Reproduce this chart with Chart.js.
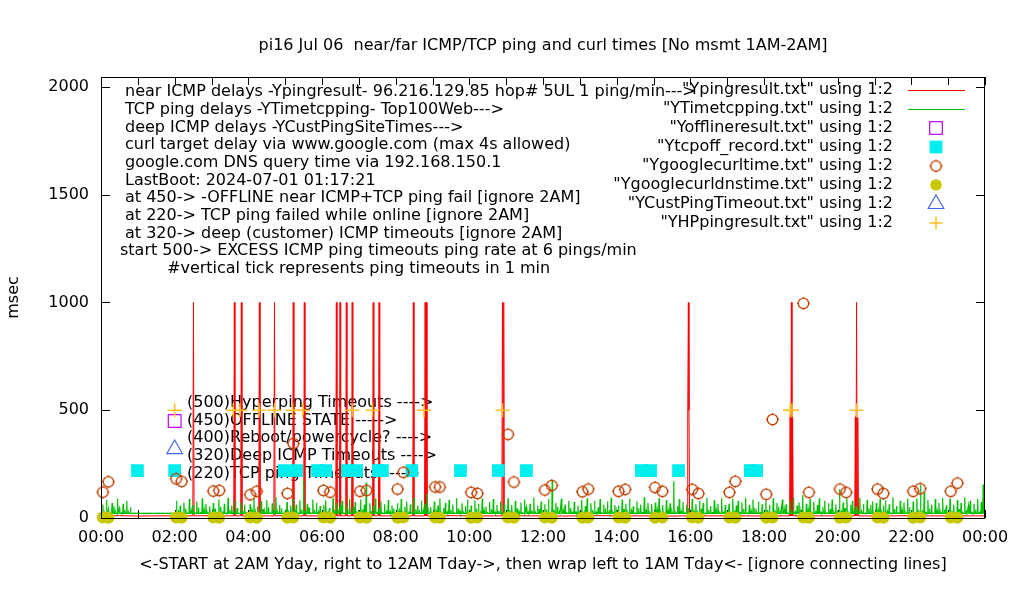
<!DOCTYPE html>
<html>
<head>
<meta charset="utf-8">
<title>pi16 ping times</title>
<script src="https://cdn.jsdelivr.net/npm/chart.js@4.4.1/dist/chart.umd.min.js"></script>
<style>
  html, body { margin: 0; padding: 0; background: #fff; }
  #wrap { width: 1020px; height: 600px; }
</style>
</head>
<body>
<div id="wrap"><canvas id="pingChart" width="1020" height="600"></canvas></div>
<script>
// ---- data (hours since 00:00, values in msec) ----
const xTickLabels = ['00:00', '02:00', '04:00', '06:00', '08:00', '10:00', '12:00',
                     '14:00', '16:00', '18:00', '20:00', '22:00', '00:00'];
const yTickValues = [0, 500, 1000, 1500, 2000];

// near ICMP ping baseline, one value every 30 min
const pingBase = [10, 11, 9, 10, 10, 10, 11, 10, 9, 10, 12, 10,
                  10, 9, 11, 10, 10, 10, 9, 11, 10, 10, 12, 10,
                  10, 9, 10, 11, 10, 10, 10, 9, 11, 10, 10, 10,
                  9, 10, 11, 10, 10, 10, 9, 10, 11, 10, 10, 10, 10];
const pingFloor = 10;
// ping timeout spikes: start hour and per-minute values
const pingSpikeHours = [2.51, 3.62, 3.81, 4.30, 4.71, 5.22, 5.52, 6.39, 6.49, 6.66, 6.82,
                        7.39, 7.55, 8.48, 8.80, 10.90, 15.93, 18.71, 20.48];
const pingSpikeVals = [[1000], [1000], [1000], [1000], [1000], [1000], [1000], [1000], [1000],
                       [1000], [1000], [1000], [1000], [1000], [1000, 10, 1000], [1000, 10, 1000],
                       [500, 1000, 500], [480, 10, 1000, 10, 470], [470, 10, 1000, 10, 465]];

// TCP ping delays, one value every 3 min, one row per hour
const tcpStepMin = 3;
const tcpFloor = 21;
const tcpMs = [
  30,62,25,84,40,22,70,55,28,90,45,24,66,38,80,26,50,22,22,22,
  22,22,22,22,22,22,22,22,22,22,22,22,22,22,22,22,22,22,22,22,
  22,80,30,58,24,72,44,26,88,35,60,23,76,48,28,92,40,65,25,54,
  28,70,44,24,86,52,30,66,23,94,38,58,26,80,46,22,72,34,62,27,
  24,64,36,90,28,55,23,78,42,30,84,50,25,68,33,96,27,60,45,22,
  30,74,26,58,88,35,62,24,82,40,175,28,66,50,23,86,38,70,29,56,
  25,60,82,30,46,24,92,38,68,27,54,80,23,64,42,88,26,50,74,31,
  28,86,40,62,165,24,70,33,56,90,26,48,78,23,64,36,84,29,58,44,
  23,68,34,88,26,52,76,30,62,24,94,40,58,27,80,36,66,110,30,50,
  26,76,32,58,90,24,46,70,28,84,38,62,23,92,44,30,68,25,54,86,
  30,58,24,82,44,66,27,90,36,52,23,74,40,88,28,60,34,78,25,64,
  24,92,38,60,26,80,44,30,72,23,86,50,28,66,36,94,25,58,42,76,
  28,64,40,88,24,175,32,70,52,26,90,36,62,23,80,46,30,74,27,58,
  25,84,30,56,92,24,68,38,80,27,50,88,23,62,44,76,30,94,26,60,
  30,58,24,86,42,66,26,90,34,54,23,78,46,62,28,96,36,70,25,64,
  26,72,40,92,28,60,24,84,36,68,30,170,25,56,88,33,74,23,62,46,
  24,88,32,64,26,80,44,70,23,94,38,56,28,84,40,66,25,90,30,60,
  28,66,24,90,36,58,80,26,72,42,94,23,60,34,86,46,28,76,25,64,
  25,80,38,62,24,92,30,70,52,26,86,40,64,23,78,34,94,28,58,72,
  30,105,26,66,40,88,24,74,34,60,92,27,50,80,23,68,42,86,26,62,
  26,135,30,72,46,90,24,62,80,33,56,28,94,38,66,23,84,44,60,76,
  24,70,36,88,27,58,82,30,64,23,96,42,56,26,80,38,72,25,90,50,
  28,76,24,92,38,155,30,120,26,84,44,62,23,88,36,70,27,94,40,58,
  25,90,34,62,28,84,42,70,24,96,36,58,80,26,66,40,88,30,74,155
];

// OFFLINE state marks (450)
const offlineHours = [2.0];
const offlineMs = [450];

// TCP ping failed while online (220)
const tcpOffHours = [0.99, 2.0, 4.98, 5.31, 5.88, 6.10, 6.69, 6.94, 7.53, 7.64, 8.44,
                     9.76, 10.79, 11.55, 14.67, 14.92, 15.68, 17.63, 17.80];
const tcpOffMs = [220, 220, 220, 220, 220, 220, 220, 220, 220, 220, 220,
                  220, 220, 220, 220, 220, 220, 220, 220];

// curl www.google.com times and DNS query times (same sample times)
const curlHours = [0.05, 0.20, 2.04, 2.19, 3.05, 3.21, 4.05, 4.23, 5.06, 5.22, 6.04, 6.22,
                   7.03, 7.21, 8.05, 8.21, 9.07, 9.20, 10.05, 10.22, 11.05, 11.21, 12.05, 12.24,
                   13.07, 13.23, 14.05, 14.23, 15.04, 15.24, 16.05, 16.22, 17.06, 17.22, 18.06, 18.23,
                   19.07, 19.22, 20.06, 20.23, 21.08, 21.24, 22.05, 22.24, 23.07, 23.25];
const curlMs = [120, 168, 182, 170, 125, 128, 108, 124, 114, 346, 128, 120,
                124, 128, 134, 212, 144, 144, 119, 114, 388, 167, 130, 151,
                122, 134, 124, 133, 142, 124, 133, 114, 119, 170, 110, 457,
                996, 119, 134, 119, 134, 114, 124, 136, 124, 162];
const dnsMs = [2, 1, 2, 1, 2, 1, 2, 1, 1, 2, 2, 1,
               2, 1, 1, 2, 2, 1, 1, 2, 2, 1, 2, 1,
               1, 2, 2, 1, 1, 2, 2, 1, 2, 1, 1, 2,
               2, 1, 1, 2, 2, 1, 1, 2, 2, 1];

// deep (customer) ICMP timeouts (320)
const custHours = [2.0];
const custMs = [320];

// Hyperping timeouts (500)
const hpHours = [2.0, 3.59, 3.77, 4.29, 4.71, 5.20, 5.48, 6.82, 7.37, 8.77, 10.90, 18.71, 18.76, 20.51];
const hpMs = [500, 500, 500, 500, 500, 500, 500, 500, 500, 500, 500, 500, 500, 500];

const noteLines = [
  'near ICMP delays -Ypingresult- 96.216.129.85 hop# 5UL 1 ping/min--->',
  'TCP ping delays -YTimetcpping- Top100Web--->',
  'deep ICMP delays -YCustPingSiteTimes--->',
  'curl target delay via www.google.com (max 4s allowed)',
  'google.com DNS query time via 192.168.150.1',
  'LastBoot: 2024-07-01 01:17:21',
  'at 450-> -OFFLINE near ICMP+TCP ping fail [ignore 2AM]',
  'at 220-> TCP ping failed while online [ignore 2AM]',
  'at 320-> deep (customer) ICMP timeouts [ignore 2AM]',
  'start 500-> EXCESS ICMP ping timeouts ping rate at 6 pings/min',
  '#vertical tick represents ping timeouts in 1 min'
];
const levelLabels = [
  '(500)Hyperping Timeouts ---->',
  '(450)OFFLINE STATE ----->',
  '(400)Reboot/powercycle? ---->',
  '(320)Deep ICMP Timeouts ---->',
  '(220)TCP ping Timeouts ---->'
];

// ---- build point lists ----
function pairs(xs, ys) {
  return xs.map((x, i) => ({ x: x, y: ys[i] }));
}

const inSpike = h => pingSpikeHours.some((s, i) =>
  h >= s - 2 / 60 && h <= s + (pingSpikeVals[i].length + 1) / 60);
const pingData = [];
pingBase.forEach((v, i) => {
  const h = i * 0.5;
  if (!inSpike(h)) pingData.push({ x: h, y: v });
});
pingSpikeHours.forEach((h, i) => {
  const vals = pingSpikeVals[i];
  pingData.push({ x: h - 1 / 60, y: pingFloor });
  vals.forEach((v, k) => pingData.push({ x: h + k / 60, y: v }));
  pingData.push({ x: h + vals.length / 60, y: pingFloor });
});
pingData.sort((a, b) => a.x - b.x);

// each TCP sample drawn as a short blip off the resting level
const tcpData = [];
tcpMs.forEach((v, i) => {
  const h = i * tcpStepMin / 60;
  tcpData.push({ x: h - 0.7 / 60, y: tcpFloor });
  tcpData.push({ x: h, y: v });
  tcpData.push({ x: h + 0.7 / 60, y: tcpFloor });
});

// gnuplot style circle with little tick marks
function makeTickCircle(color) {
  const c = document.createElement('canvas');
  c.width = 17;
  c.height = 17;
  const g = c.getContext('2d');
  g.strokeStyle = color;
  g.lineWidth = 1.3;
  g.beginPath();
  g.arc(8.5, 8.5, 5.2, 0, Math.PI * 2);
  g.stroke();
  g.beginPath();
  g.moveTo(8.5, 2.0); g.lineTo(8.5, 3.4);
  g.moveTo(8.5, 13.6); g.lineTo(8.5, 15.0);
  g.moveTo(2.0, 8.5); g.lineTo(3.4, 8.5);
  g.moveTo(13.6, 8.5); g.lineTo(15.0, 8.5);
  g.stroke();
  return c;
}
const curlMarker = makeTickCircle('#c04000');

const FONT = '16px "DejaVu Sans"';

function drawMarker(ctx, ds, x, y) {
  ctx.save();
  const kind = ds.markerKind;
  ctx.lineWidth = 1.2;
  if (kind === 'line') {
    ctx.strokeStyle = ds.borderColor;
    ctx.lineWidth = 1;
    ctx.beginPath();
    ctx.moveTo(908, y + 0.5);
    ctx.lineTo(965, y + 0.5);
    ctx.stroke();
  } else if (kind === 'openSquare') {
    ctx.strokeStyle = ds.borderColor;
    ctx.strokeRect(x - 6.3, y - 6.3, 12.6, 12.6);
  } else if (kind === 'fillSquare') {
    ctx.fillStyle = ds.backgroundColor;
    ctx.fillRect(x - 6.4, y - 6.4, 12.8, 12.8);
  } else if (kind === 'tickCircle') {
    ctx.drawImage(curlMarker, x - 8.5, y - 8.5);
  } else if (kind === 'fillCircle') {
    ctx.fillStyle = ds.backgroundColor;
    ctx.beginPath();
    ctx.arc(x, y, 5.8, 0, Math.PI * 2);
    ctx.fill();
  } else if (kind === 'openTriangle') {
    ctx.strokeStyle = ds.borderColor;
    ctx.beginPath();
    ctx.moveTo(x, y - 9);
    ctx.lineTo(x + 7.8, y + 4.5);
    ctx.lineTo(x - 7.8, y + 4.5);
    ctx.closePath();
    ctx.stroke();
  } else if (kind === 'plus') {
    ctx.strokeStyle = ds.borderColor;
    ctx.lineWidth = 1.5;
    ctx.beginPath();
    ctx.moveTo(x - 6.5, y); ctx.lineTo(x + 6.5, y);
    ctx.moveTo(x, y - 6.5); ctx.lineTo(x, y + 6.5);
    ctx.stroke();
  }
  ctx.restore();
}

const gnuplotDecor = {
  id: 'gnuplotDecor',
  beforeDatasetsDraw(chart) {
    const ctx = chart.ctx;
    const area = chart.chartArea;
    const xs = chart.scales.x;
    const ys = chart.scales.y;
    ctx.save();
    // inward ticks (behind the data, like gnuplot)
    ctx.strokeStyle = '#000';
    ctx.lineWidth = 1;
    ctx.beginPath();
    yTickValues.forEach(v => {
      const py = Math.round(ys.getPixelForValue(v)) + 0.5;
      ctx.moveTo(area.left, py); ctx.lineTo(area.left + 9, py);
      ctx.moveTo(area.right, py); ctx.lineTo(area.right - 9, py);
    });
    for (let h = 0; h <= 24; h++) {
      const px = Math.round(xs.getPixelForValue(h)) + 0.5;
      ctx.moveTo(px, area.top); ctx.lineTo(px, area.top + 8);
      ctx.moveTo(px, area.bottom); ctx.lineTo(px, area.bottom - 8);
    }
    ctx.stroke();
    // text labels
    ctx.font = FONT;
    ctx.fillStyle = '#000';
    ctx.textBaseline = 'middle';
    ctx.textAlign = 'left';
    noteLines.forEach((t, i) => {
      const x = i === 9 ? 120 : (i === 10 ? 167 : 125);
      ctx.fillText(t, x, 92 + i * 17.7);
    });
    levelLabels.forEach((t, i) => {
      ctx.fillText(t, area.left + 86, area.top + 326 + i * 17.6);
    });
    ctx.restore();
  },
  afterDatasetsDraw(chart) {
    const ctx = chart.ctx;
    const area = chart.chartArea;
    ctx.save();
    // border
    ctx.strokeStyle = '#000';
    ctx.lineWidth = 1;
    ctx.strokeRect(area.left + 0.5, area.top + 0.5, area.right - area.left - 1, area.bottom - area.top);
    // key
    ctx.font = FONT;
    ctx.fillStyle = '#000';
    ctx.textBaseline = 'middle';
    ctx.textAlign = 'right';
    chart.data.datasets.forEach((ds, i) => {
      const y = 90 + i * 19;
      ctx.fillText(ds.label, 893, y);
      drawMarker(ctx, ds, 936, y);
    });
    ctx.restore();
  },
  afterDraw(chart) {
    const ctx = chart.ctx;
    const area = chart.chartArea;
    const cx = (area.left + area.right) / 2;
    ctx.save();
    ctx.font = FONT;
    ctx.fillStyle = '#000';
    ctx.textBaseline = 'middle';
    ctx.textAlign = 'center';
    ctx.fillText('pi16 Jul 06  near/far ICMP/TCP ping and curl times [No msmt 1AM-2AM]', cx, 46);
    ctx.fillText('<-START at 2AM Yday, right to 12AM Tday->, then wrap left to 1AM Tday<- [ignore connecting lines]', cx, 565);
    ctx.translate(14, (area.top + area.bottom) / 2);
    ctx.rotate(-Math.PI / 2);
    ctx.fillText('msec', 0, 0);
    ctx.restore();
  }
};

const ctx = document.getElementById('pingChart').getContext('2d');
const pingChart = new Chart(ctx, {
  type: 'scatter',
  data: {
    datasets: [
      {
        label: '"Ypingresult.txt" using 1:2',
        markerKind: 'line',
        data: pingData,
        showLine: true,
        borderColor: '#ff0000',
        backgroundColor: '#ff0000',
        borderWidth: 1,
        pointRadius: 0,
        tension: 0,
        order: 8
      },
      {
        label: '"YTimetcpping.txt" using 1:2',
        markerKind: 'line',
        data: tcpData,
        showLine: true,
        borderColor: '#00c000',
        backgroundColor: '#00c000',
        borderWidth: 1.2,
        pointRadius: 0,
        tension: 0,
        order: 7
      },
      {
        label: '"Yofflineresult.txt" using 1:2',
        markerKind: 'openSquare',
        data: pairs(offlineHours, offlineMs),
        pointStyle: 'rect',
        pointRadius: 9,
        borderColor: '#c000ff',
        backgroundColor: 'rgba(0,0,0,0)',
        borderWidth: 1.2,
        clip: false,
        order: 6
      },
      {
        label: '"Ytcpoff_record.txt" using 1:2',
        markerKind: 'fillSquare',
        data: pairs(tcpOffHours, tcpOffMs),
        pointStyle: 'rect',
        pointRadius: 9,
        borderWidth: 0,
        backgroundColor: '#00eeee',
        borderColor: '#00eeee',
        clip: false,
        order: 5
      },
      {
        label: '"Ygooglecurltime.txt" using 1:2',
        markerKind: 'tickCircle',
        data: pairs(curlHours, curlMs),
        pointStyle: curlMarker,
        pointRadius: 8,
        clip: false,
        order: 4
      },
      {
        label: '"Ygooglecurldnstime.txt" using 1:2',
        markerKind: 'fillCircle',
        data: pairs(curlHours, dnsMs),
        pointStyle: 'circle',
        pointRadius: 6,
        borderWidth: 0,
        backgroundColor: '#c8c800',
        borderColor: '#c8c800',
        clip: false,
        order: 3
      },
      {
        label: '"YCustPingTimeout.txt" using 1:2',
        markerKind: 'openTriangle',
        data: pairs(custHours, custMs),
        pointStyle: 'triangle',
        pointRadius: 9,
        borderColor: '#4169e1',
        backgroundColor: 'rgba(0,0,0,0)',
        borderWidth: 1.2,
        clip: false,
        order: 2
      },
      {
        label: '"YHPpingresult.txt" using 1:2',
        markerKind: 'plus',
        data: pairs(hpHours, hpMs),
        pointStyle: 'cross',
        pointRadius: 7,
        borderColor: '#ffc020',
        backgroundColor: '#ffc020',
        borderWidth: 1.5,
        clip: false,
        order: 1
      }
    ]
  },
  options: {
    responsive: false,
    devicePixelRatio: 1,
    animation: false,
    events: [],
    layout: { padding: { top: 77, right: 35, left: 0, bottom: 0 } },
    plugins: {
      legend: { display: false },
      tooltip: { enabled: false },
      title: { display: false }
    },
    scales: {
      x: {
        type: 'linear',
        min: 0,
        max: 24,
        border: { display: false },
        grid: { display: false, drawTicks: false },
        ticks: {
          stepSize: 2,
          autoSkip: false,
          maxRotation: 0,
          padding: 10,
          color: '#000',
          font: { family: 'DejaVu Sans', size: 16 },
          callback: (v, i) => xTickLabels[i]
        },
        afterFit: s => { s.height = 82; }
      },
      y: {
        type: 'linear',
        min: 0,
        max: 2046,
        border: { display: false },
        grid: { display: false, drawTicks: false },
        afterBuildTicks: s => { s.ticks = yTickValues.map(v => ({ value: v })); },
        ticks: {
          padding: 12,
          color: '#000',
          font: { family: 'DejaVu Sans', size: 16 },
          callback: v => String(v)
        },
        afterFit: s => { s.width = 101; }
      }
    }
  },
  plugins: [gnuplotDecor]
});
</script>
</body>
</html>
